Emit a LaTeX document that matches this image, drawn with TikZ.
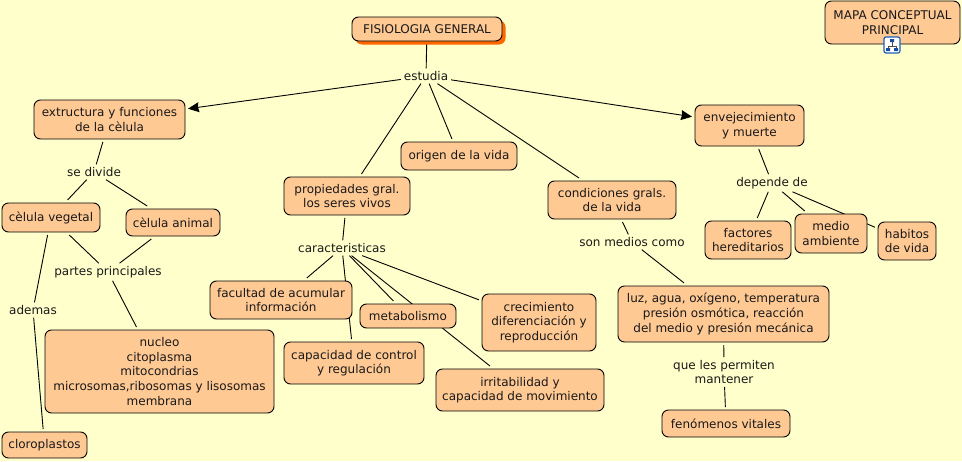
\documentclass[tikz,border=0pt]{standalone}
\usepackage{fontspec}
\setmainfont{DejaVu Sans}
\usetikzlibrary{arrows.meta,shadows,backgrounds}
\definecolor{paper}{HTML}{FFFFCC}
\definecolor{boxfill}{HTML}{FFC994}
\definecolor{shadowfill}{HTML}{FF6600}
\definecolor{iconblue}{HTML}{1F5FBF}
\tikzset{
  concept/.style={draw=black,fill=boxfill,rounded corners=6.5pt,line width=0.9pt,align=center,inner sep=0pt,outer sep=3pt},
  linker/.style={align=center,inner sep=1pt,outer sep=2pt,fill=none},
  every edge/.style={draw,line width=0.9pt},
  tip/.style={-{Stealth[length=11pt,width=10pt,inset=1pt]}}
}
\begin{document}
\begin{tikzpicture}[x=1pt,y=-1pt,font=\fontsize{12}{14.6}\selectfont,text=black!90]

        \useasboundingbox (0,0) rectangle (962,461);

        \begin{scope}[every node/.style={concept}]
          \node[minimum width=150pt,minimum height=24pt,drop shadow={shadow xshift=3.5pt,shadow yshift=-3.5pt,fill=shadowfill,opacity=1}] (fisio) at (427,29) {FISIOLOGIA GENERAL};
          \node[minimum width=135pt,minimum height=43pt] (mapa) at (892.5,22.5) {MAPA CONCEPTUAL\\PRINCIPAL};
          \node[minimum width=151pt,minimum height=39pt] (estruct) at (109.5,119.5) {extructura y funciones\\de la cèlula};
          \node[minimum width=98pt,minimum height=29pt] (vegetal) at (51,217.5) {cèlula vegetal};
          \node[minimum width=94pt,minimum height=27pt] (animal) at (173,222.5) {cèlula animal};
          \node[minimum width=229pt,minimum height=83pt] (nucleo) at (159.5,371.5) {nucleo\\citoplasma\\mitocondrias\\microsomas,ribosomas y lisosomas\\membrana};
          \node[minimum width=85pt,minimum height=26pt] (cloro) at (44.5,445) {cloroplastos};
          \node[minimum width=126pt,minimum height=38pt] (prop) at (347,196) {propiedades gral.\\ los seres vivos};
          \node[minimum width=116pt,minimum height=28pt] (origen) at (459,156) {origen de la vida};
          \node[minimum width=128pt,minimum height=38pt] (cond) at (612,200) {condiciones grals.\\de la vida};
          \node[minimum width=109pt,minimum height=41pt] (enve) at (749.5,125.5) {envejecimiento\\y muerte};
          \node[minimum width=86pt,minimum height=38pt] (fact) at (748,240) {factores\\hereditarios};
          \node[minimum width=72pt,minimum height=39pt] (medio) at (831,233.5) {medio\\ambiente};
          \node[minimum width=58pt,minimum height=38pt] (habitos) at (907,241) {habitos\\de vida};
          \node[minimum width=211pt,minimum height=56pt] (luz) at (723.5,314) {luz, agua, oxígeno, temperatura\\presión osmótica, reacción\\del medio y presión mecánica};
          \node[minimum width=128pt,minimum height=27pt] (fenom) at (726,423.5) {fenómenos vitales};
          \node[minimum width=142pt,minimum height=38pt] (facul) at (281,300) {facultad de acumular\\información};
          \node[minimum width=140pt,minimum height=42pt] (control) at (354,363) {capacidad de control\\y regulación};
          \node[minimum width=96pt,minimum height=24pt] (metab) at (408,316) {metabolismo};
          \node[minimum width=114pt,minimum height=57pt] (crec) at (539,322.5) {crecimiento\\diferenciación y\\reproducción};
          \node[minimum width=168pt,minimum height=42pt] (irrit) at (520,390) {irritabilidad y\\capacidad de movimiento};
        \end{scope}

        \begin{scope}[every node/.style={linker}]
          \node (estudia)  at (426,76)  {estudia};
          \node (divide)   at (94,172)  {se divide};
          \node (partes)   at (108,272) {partes principales};
          \node (ademas)   at (33,310)  {ademas};
          \node (caract)   at (342,248) {caracteristicas};
          \node (depende)  at (772,183) {depende de};
          \node (medios)   at (632,242) {son medios como};
          \node (permiten) at (724,372) {que les permiten\\mantener};
        \end{scope}

        % lines run behind the boxes
        \begin{scope}[on background layer]
          \fill[paper] (0,0) rectangle (962,461);
          \path (fisio) edge (estudia);
          \path (estudia) edge[tip] (estruct);
          \path (estudia) edge[tip] (enve);
          \path (estudia) edge (prop);
          \path (estudia) edge (origen);
          \path (estudia) edge (cond);
          \path (estruct) edge (divide);
          \path (divide) edge (vegetal);
          \path (divide) edge (animal);
          \path (vegetal) edge (partes);
          \path (animal) edge (partes);
          \path (partes) edge (nucleo);
          \path (vegetal) edge (ademas);
          \path (ademas) edge (cloro);
          \path (prop) edge (caract);
          \path (caract) edge (facul);
          \path (caract) edge (control);
          \path (caract) edge (metab);
          \path (caract) edge (crec);
          \path (caract) edge (irrit);
          \path (cond) edge (medios);
          \path (medios) edge (luz);
          \path (luz) edge (permiten);
          \path (permiten) edge (fenom);
          \path (enve) edge (depende);
          \path (depende) edge (fact);
          \path (depende) edge (medio);
          \path (depende) edge (habitos);
        \end{scope}

        % icon under the map box
        \begin{scope}[shift={(892,45)}]
          \draw[iconblue,fill=white,rounded corners=2pt,line width=1.2pt] (-8,-8) rectangle (8,8);
          \draw[black!70,line width=0.7pt] (0,-3) -- (0,1) (-4,3) -- (-4,1) -- (4,1) -- (4,3);
          \fill[iconblue!80!black] (-2,-6) rectangle (2,-3) (-6,3) rectangle (-2,6) (2,3) rectangle (6,6);
        \end{scope}

      \end{tikzpicture}
\end{document}
